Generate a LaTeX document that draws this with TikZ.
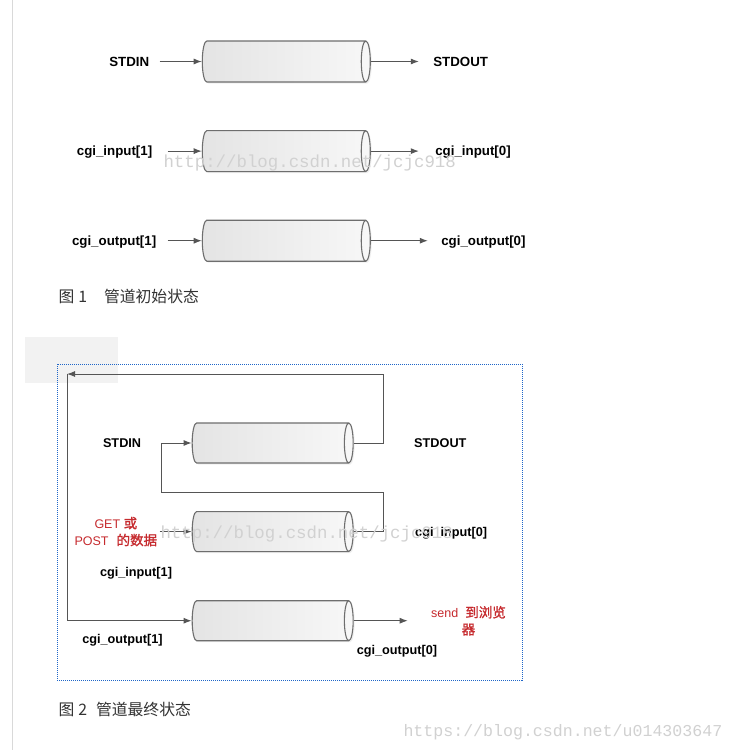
\documentclass[tikz,border=0pt]{standalone}
\usepackage{fontspec}
\setmainfont{Liberation Sans}
\newfontfamily\cjk{Noto Sans CJK SC}
\newfontfamily\cjkb[FakeBold=1.2]{Noto Sans CJK SC}
\newfontfamily\wmfont{Liberation Mono}
\usetikzlibrary{shapes.geometric,
arrows.meta,
shadows,
positioning}
\definecolor{linegray}{HTML}{555555}
\definecolor{pipeedge}{HTML}{6E6E6E}
\definecolor{pipefill}{HTML}{E4E4E4}
\definecolor{notered}{HTML}{C62A2E}
\definecolor{frameblue}{HTML}{1F66C8}
\definecolor{captext}{HTML}{333333}
\newcommand{\zh}[1]{{\cjkb\fontsize{13.5}{17}\selectfont #1}}

\begin{document}
\begin{tikzpicture} [x=1pt, y=-1pt,
    >={Latex[length=8pt, width=6pt]},
    line width=1pt,
    pipe/.style={cylinder, shape border rotate=0, aspect=0.22,
        draw=pipeedge, line width=1.1pt,
        left color=pipefill, right color=white!97!black,
        drop shadow={opacity=0.12, shadow xshift=1.5pt, shadow yshift=-1.5pt},
        minimum height=168pt, minimum width=41pt,
        inner xsep=0pt, inner ysep=20.5pt},
    pipeb/.style={pipe, minimum height=161pt, minimum width=40pt,
        inner ysep=20pt},
    flow/.style={->, draw=linegray},
    lbl/.style={inner sep=0pt, text height=9.6pt, text depth=0pt,
        font=\fontsize{13.3}{15}\selectfont\bfseries},
    lblb/.style={lbl, text height=9.1pt,
        font=\fontsize{12.7}{15}\selectfont\bfseries},
    note/.style={inner sep=0pt, align=center, text=notered,
        font=\fontsize{12.5}{17}\selectfont},
    figcap/.style={anchor=base west, inner sep=0pt, text=captext,
        font=\cjk\fontsize{15.8}{18}\selectfont},
    wm/.style={anchor=base west, inner sep=0pt, text=black!18,
        font=\wmfont\fontsize{17.4}{18}\selectfont}
  ]

  \fill[white] (0,0) rectangle (734,750);
  \useasboundingbox (0,0) rectangle (734,750);
  \draw[black!15] (12.5,0) -- (12.5,750);
  \fill[black!5] (25,337) rectangle (118,383);

  % figure 1
  \node [pipe] (stdpipe) at (281.5,61.5) {};
  \node [pipe, below = 47.5pt of stdpipe] (inpipe) {};
  \node [pipe, below = 47.5pt of inpipe] (outpipe) {};

  \node [lbl, left = 52pt of stdpipe] (stdin) {STDIN};
  \node [lbl, right = 62pt of stdpipe] (stdout) {STDOUT};
  \node [lbl, left = 49pt of inpipe] (inone) {cgi\_input[1]};
  \node [lbl, right = 64pt of inpipe] (inzero) {cgi\_input[0]};
  \node [lbl, left = 45pt of outpipe] (outone) {cgi\_output[1]};
  \node [lbl, right = 70pt of outpipe] (outzero) {cgi\_output[0]};

  \draw [flow, shorten <=10pt] (stdin) -- (stdpipe);
  \draw [flow, shorten >=14pt] (stdpipe) -- (stdout);
  \draw [flow, shorten <=15pt] (inone) -- (inpipe);
  \draw [flow, shorten >=16pt] (inpipe) -- (inzero);
  \draw [flow, shorten <=11pt] (outone) -- (outpipe);
  \draw [flow, shorten >=13pt] (outpipe) -- (outzero);

  \node [figcap] (capone) at (58,302) {图\hspace{4pt}1\hspace{17pt}管道初始状态};

  %%%%%%%%%%%%%%%%%%%%%%%%%%%%%%

  % figure 2
  \draw [frameblue, line width=0.8pt, dash pattern=on 1pt off 1pt]
  (57,364) rectangle (522,680);

  \node [pipeb] (stdpipeb) at (268,443) {};
  \node [pipeb, below = 47.5pt of stdpipeb] (inpipeb) {};
  \node [pipeb, below = 48pt of inpipeb] (outpipeb) {};

  \node [lblb, left = 50pt of stdpipeb] (stdinb) {STDIN};
  \node [lblb, right = 60pt of stdpipeb] (stdoutb) {STDOUT};
  \node [lblb, right = 61pt of inpipeb] (inzerob) {cgi\_input[0]};
  \node [lblb] (inoneb) at (136,572) {cgi\_input[1]};
  \node [lblb] (outoneb) at (122.5,639) {cgi\_output[1]};
  \node [lblb] (outzerob) at (397,650) {cgi\_output[0]};

  \node [note, left = 34pt of inpipeb] (postdata)
  {GET \zh{或}\\POST\hspace{8pt}\zh{的数据}};
  \node [note, right = 77pt of outpipeb] (browser)
  {send\hspace{7pt}\zh{到浏览}\\\zh{器}};

  \coordinate (loopr) at (383,374);
  \coordinate (loopl) at (67,374);
  \coordinate (backr) at (383,492);
  \coordinate (backl) at (161,492);

  \draw [flow] (stdpipeb.east) -| (loopr) -- (loopl);
  \draw [flow] (loopl) |- (outpipeb.west);
  \draw [flow] (inpipeb.east) -| (backr) -- (backl) |- (stdpipeb.west);
  \draw [flow, shorten <=2pt] (postdata) -- (inpipeb);
  \draw [flow, shorten >=23pt] (outpipeb) -- (browser);

  \node [figcap] (captwo) at (58,715) {图\hspace{4pt}2\hspace{9pt}管道最终状态};

  % watermarks
  \node [wm] (wmone) at (163,167) {http://blog.csdn.net/jcjc918};
  \node [wm] (wmtwo) at (160,538) {http://blog.csdn.net/jcjc918};
  \node [wm, font=\wmfont\fontsize{16.6}{18}\selectfont] (wmthree)
  at (403,736) {https://blog.csdn.net/u014303647};

\end{tikzpicture}
\end{document}
